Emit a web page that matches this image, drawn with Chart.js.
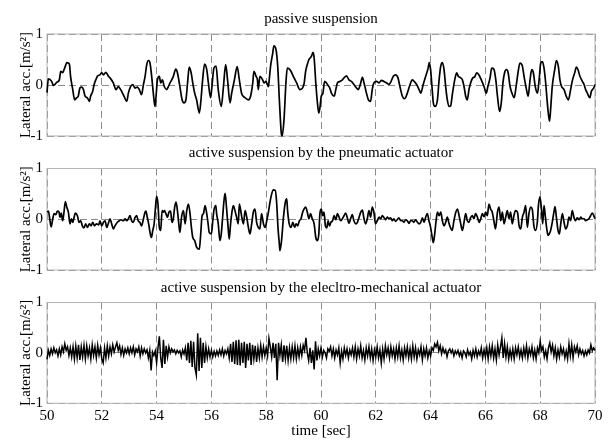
<!DOCTYPE html>
<html>
<head>
<meta charset="utf-8">
<script src="https://cdn.jsdelivr.net/npm/chart.js@4/dist/chart.umd.min.js"></script>
<style>
  html, body { margin: 0; padding: 0; background: #fff; }
  #wrap { position: relative; width: 608px; height: 440px; }
  #wrap canvas { position: absolute; left: 0; top: 0; }
</style>
</head>
<body>
<div id="wrap">
  <canvas id="passive" width="608" height="440"></canvas>
  <canvas id="pneumatic" width="608" height="440"></canvas>
  <canvas id="electro" width="608" height="440"></canvas>
</div>
<script>
// panel titles and axis texts
const titles = [
  "passive suspension",
  "active suspension by the pneumatic actuator",
  "active suspension by the elecltro-mechanical actuator"
];
const yLabel = "Lateral acc.[m/s\u00b2]";
const xLabel = "time [sec]";
const xTicks = [50, 52, 54, 56, 58, 60, 62, 64, 66, 68, 70];
const yTicks = [-1, 0, 1];

// passive suspension
const passiveTime = [
  50.00, 50.05, 50.17, 50.23, 50.29, 50.35, 50.45, 50.50, 50.57, 50.62,
  50.67, 50.72, 50.78, 50.82, 50.86, 50.94, 51.01, 51.08, 51.14, 51.20,
  51.27, 51.33, 51.39, 51.47, 51.55, 51.59, 51.67, 51.72, 51.78, 51.84,
  51.93, 52.00, 52.06, 52.15, 52.24, 52.30, 52.42, 52.52, 52.60, 52.69,
  52.81, 52.91, 52.97, 53.05, 53.13, 53.21, 53.30, 53.37, 53.45, 53.52,
  53.58, 53.64, 53.70, 53.76, 53.82, 53.88, 53.94, 53.98, 54.03, 54.10,
  54.15, 54.21, 54.28, 54.37, 54.43, 54.49, 54.55, 54.61, 54.70, 54.76,
  54.85, 54.93, 55.00, 55.07, 55.13, 55.19, 55.26, 55.32, 55.39, 55.46,
  55.56, 55.62, 55.68, 55.75, 55.83, 55.89, 55.97, 56.02, 56.09, 56.17,
  56.25, 56.36, 56.44, 56.52, 56.59, 56.68, 56.74, 56.84, 56.94, 57.02,
  57.10, 57.23, 57.35, 57.43, 57.51, 57.55, 57.63, 57.68, 57.71, 57.77,
  57.87, 57.92, 57.99, 58.08, 58.11, 58.16, 58.24, 58.28, 58.36, 58.42,
  58.48, 58.55, 58.58, 58.65, 58.72, 58.77, 58.87, 58.99, 59.11, 59.23,
  59.38,
  59.44, 59.50, 59.56, 59.65, 59.71, 59.75, 59.81, 59.87, 59.92, 59.96,
  60.01, 60.07, 60.13, 60.20, 60.26, 60.32, 60.38, 60.48, 60.54, 60.60,
  60.69, 60.78, 60.84, 60.93, 61.02, 61.11, 61.20, 61.30, 61.36, 61.45,
  61.51, 61.57, 61.66, 61.73, 61.81, 61.87, 61.93, 62.03, 62.12, 62.20,
  62.30, 62.40, 62.48, 62.54, 62.64, 62.72, 62.81, 62.88, 62.97, 63.05,
  63.15, 63.25, 63.33, 63.40, 63.49, 63.58, 63.64, 63.73, 63.82, 63.91,
  63.95, 64.00, 64.05, 64.10, 64.16, 64.25, 64.31, 64.37, 64.43, 64.49,
  64.55, 64.61, 64.68, 64.73, 64.80, 64.88, 64.95, 65.01, 65.10, 65.16,
  65.22, 65.28, 65.34, 65.40, 65.46, 65.54, 65.61, 65.68, 65.76, 65.85,
  65.95, 66.03, 66.09, 66.17, 66.23, 66.31, 66.38, 66.44, 66.52, 66.58,
  66.64, 66.70, 66.77, 66.83, 66.90, 66.97, 67.05, 67.12, 67.19, 67.26,
  67.35, 67.41, 67.50, 67.56, 67.63, 67.69, 67.75, 67.82, 67.90, 67.96,
  68.02, 68.08, 68.14, 68.20, 68.26, 68.34, 68.38, 68.44, 68.53, 68.59,
  68.66, 68.72, 68.78, 68.87, 68.95, 69.03, 69.11, 69.18, 69.26, 69.32,
  69.38, 69.45, 69.54, 69.60, 69.66, 69.72, 69.81, 69.87, 69.95, 70.00
];
const passiveAcc = [
  -0.15, 0.12, 0.07, -0.01, 0.01, 0.05, 0.10, 0.27, 0.24, 0.30,
  0.37, 0.44, 0.43, 0.40, 0.17, -0.09, -0.29, -0.25, -0.22, -0.06,
  -0.04, -0.09, -0.22, -0.25, -0.32, -0.22, -0.12, 0.01, 0.10, 0.17,
  0.20, 0.24, 0.20, 0.25, 0.17, 0.14, 0.04, -0.09, -0.03, -0.09,
  -0.22, -0.32, -0.16, -0.03, 0.01, -0.06, -0.04, -0.09, -0.19, 0.01,
  0.17, 0.40, 0.48, 0.43, 0.17, -0.16, -0.42, -0.22, 0.10, 0.17,
  0.04, 0.10, -0.03, -0.09, -0.03, 0.04, 0.10, 0.17, 0.31, 0.24,
  -0.03, -0.29, -0.35, -0.29, 0.04, 0.35, 0.24, 0.04, -0.16, -0.29,
  -0.55, -0.29, 0.10, 0.41, 0.30, 0.04, -0.25, -0.03, 0.33, 0.37,
  -0.09, -0.42, -0.03, 0.40, 0.10, -0.35, -0.16, 0.10, 0.36, 0.10,
  -0.16, -0.25, -0.29, -0.22, 0.04, 0.27, 0.17, 0.10, -0.09, 0.17,
  0.10, 0.04, 0.07, -0.03, 0.10, 0.37, 0.63, 0.77, 0.69, 0.37,
  -0.29, -0.94, -1.00, -0.68, 0.04, 0.33, 0.30, 0.17, 0.04, -0.09,
  0.02,
  0.27, 0.40, 0.50, 0.56, 0.64, 0.53, 0.04, -0.35, -0.55, -0.45,
  -0.22, -0.16, 0.07, 0.04, -0.01, -0.06, -0.16, -0.22, -0.09, 0.04,
  0.07, 0.10, 0.14, 0.18, 0.10, 0.07, 0.01, -0.06, -0.09, 0.04,
  0.15, 0.04, -0.16, -0.29, -0.32, -0.09, 0.04, 0.07, 0.04, 0.09,
  0.07, 0.04, 0.01, 0.05, 0.17, 0.20, 0.14, -0.03, -0.22, -0.27,
  -0.16, 0.01, 0.10, 0.07, 0.01, -0.09, -0.16, 0.01, 0.17, 0.33,
  0.44, 0.30, -0.03, -0.35, -0.42, -0.29, 0.10, 0.37, 0.44, 0.30,
  -0.03, -0.29, -0.42, -0.41, -0.16, 0.10, 0.24, 0.17, 0.14, 0.10,
  -0.03, -0.22, -0.29, -0.09, 0.04, 0.14, 0.16, 0.24, 0.20, 0.10,
  -0.03, -0.16, -0.03, 0.14, 0.33, 0.31, 0.10, -0.22, -0.52, -0.35,
  0.04, 0.24, 0.30, 0.24, -0.03, -0.16, -0.25, -0.03, 0.24, 0.43,
  0.37, 0.17, -0.09, -0.22, 0.10, 0.30, 0.24, -0.03, -0.16, 0.10,
  0.43, 0.46, 0.33, 0.04, -0.35, -0.71, -0.48, -0.03, 0.30, 0.48,
  0.37, 0.10, -0.03, -0.09, -0.22, -0.29, -0.09, 0.10, 0.24, 0.35,
  0.30, 0.17, 0.07, 0.01, -0.09, -0.16, -0.25, -0.12, -0.06, 0.01
];

// pneumatic actuator
const pneumaticTime = [
  50.00, 50.05, 50.11, 50.15, 50.21, 50.26, 50.32, 50.38, 50.44, 50.47,
  50.52, 50.57, 50.62, 50.67, 50.72, 50.78, 50.84, 50.89, 50.94, 50.99,
  51.03, 51.11, 51.17, 51.23, 51.29, 51.35, 51.41, 51.47, 51.55, 51.61,
  51.67, 51.73, 51.81, 51.89, 51.93, 52.00, 52.06, 52.12, 52.18, 52.24,
  52.30, 52.36, 52.42, 52.48, 52.57, 52.64, 52.70, 52.79, 52.85, 52.91,
  52.97, 53.03, 53.09, 53.15, 53.21, 53.27, 53.33, 53.39, 53.45, 53.52,
  53.58, 53.61, 53.66, 53.71, 53.76, 53.81, 53.86, 53.91, 53.95, 54.00,
  54.05, 54.10, 54.15, 54.20, 54.25, 54.29, 54.34, 54.40, 54.45, 54.51,
  54.56, 54.61, 54.66, 54.71, 54.76, 54.81, 54.85, 54.91, 54.98, 55.04,
  55.10, 55.16, 55.22, 55.27, 55.32, 55.39, 55.46, 55.56, 55.61, 55.66,
  55.71, 55.77, 55.83, 55.88, 55.92, 56.00, 56.05, 56.09, 56.16, 56.19,
  56.25, 56.31, 56.36, 56.41, 56.46, 56.50, 56.55, 56.61, 56.65, 56.70,
  56.75, 56.80, 56.86, 56.92, 56.98, 57.02, 57.07, 57.12, 57.17, 57.23,
  57.29, 57.35, 57.41, 57.47, 57.53, 57.59, 57.65, 57.71, 57.77, 57.83,
  57.90, 57.96, 58.02, 58.08, 58.14, 58.20, 58.26, 58.33, 58.38, 58.43,
  58.48, 58.50, 58.56, 58.63, 58.70, 58.75, 58.78, 58.84, 58.91, 58.97,
  59.04, 59.09, 59.15, 59.21, 59.27, 59.33, 59.38,
  59.44, 59.50, 59.56, 59.62, 59.68, 59.75, 59.81, 59.87, 59.92, 59.96,
  60.01, 60.06, 60.11, 60.16, 60.21, 60.26, 60.31, 60.36, 60.42, 60.48,
  60.54, 60.60, 60.66, 60.72, 60.78, 60.84, 60.90, 60.96, 61.02, 61.08,
  61.14, 61.20, 61.27, 61.33, 61.39, 61.45, 61.51, 61.57, 61.63, 61.69,
  61.75, 61.81, 61.87, 61.93, 61.99, 62.05, 62.12, 62.18, 62.24, 62.30,
  62.36, 62.42, 62.48, 62.54, 62.60, 62.66, 62.72, 62.78, 62.84, 62.91,
  62.97, 63.03, 63.09, 63.15, 63.21, 63.27, 63.33, 63.39, 63.45, 63.52,
  63.58, 63.64, 63.70, 63.76, 63.82, 63.88, 63.94, 64.00, 64.06, 64.10,
  64.15, 64.20, 64.25, 64.31, 64.37, 64.43, 64.49, 64.55, 64.61, 64.67,
  64.73, 64.79, 64.85, 64.92, 64.98, 65.04, 65.10, 65.16, 65.22, 65.28,
  65.34, 65.40, 65.46, 65.52, 65.58, 65.64, 65.71, 65.77, 65.83, 65.89,
  65.95, 66.01, 66.07, 66.13, 66.19, 66.25, 66.31, 66.37, 66.44, 66.50,
  66.56, 66.62, 66.68, 66.74, 66.80, 66.86, 66.92, 66.98, 67.04, 67.10,
  67.17, 67.23, 67.29, 67.35, 67.41, 67.47, 67.53, 67.59, 67.65, 67.71,
  67.77, 67.83, 67.90, 67.93, 67.99, 68.04, 68.09, 68.14, 68.19, 68.24,
  68.29, 68.33, 68.38, 68.44, 68.50, 68.54, 68.59, 68.65, 68.70, 68.75,
  68.81, 68.87, 68.93, 68.99, 69.05, 69.11, 69.17, 69.23, 69.29, 69.35,
  69.42, 69.48, 69.54, 69.60, 69.66, 69.72, 69.78, 69.84, 69.90, 70.00
];
const pneumaticAcc = [
  0.14, 0.16, -0.03, -0.15, 0.01, 0.11, 0.09, 0.16, 0.14, 0.04,
  0.12, -0.03, 0.14, 0.35, 0.24, 0.14, -0.09, 0.01, -0.06, 0.04,
  0.12, 0.07, -0.06, -0.03, -0.13, -0.17, -0.09, -0.16, -0.09, -0.13,
  -0.06, -0.13, -0.09, -0.11, -0.03, -0.13, -0.06, -0.03, -0.16, -0.08,
  0.01, -0.09, -0.19, -0.13, -0.06, -0.03, -0.01, -0.03, 0.01, -0.03,
  0.01, 0.07, -0.03, -0.06, 0.03, 0.07, -0.03, -0.06, -0.13, 0.01,
  0.14, 0.16, 0.04, -0.09, -0.26, -0.36, -0.22, -0.09, 0.17, 0.45,
  0.30, -0.16, -0.22, 0.17, 0.14, 0.17, 0.11, 0.04, 0.14, 0.16,
  -0.06, 0.01, 0.24, 0.34, 0.17, -0.09, -0.26, 0.04, 0.17, -0.09,
  0.17, 0.30, 0.11, -0.16, -0.36, -0.42, -0.55, -0.59, -0.29, 0.07,
  0.11, 0.27, 0.11, -0.09, -0.26, -0.29, -0.03, 0.17, 0.27, 0.11,
  -0.09, -0.42, -0.29, 0.04, 0.37, 0.51, 0.24, -0.16, -0.39, -0.09,
  0.14, 0.27, 0.17, 0.04, -0.09, 0.30, 0.17, 0.01, -0.09, 0.17,
  0.04, -0.16, -0.29, -0.09, 0.14, 0.20, -0.06, -0.16, -0.19, 0.11,
  -0.09, -0.16, -0.03, 0.14, 0.34, 0.50, 0.58, 0.57, 0.34, -0.16,
  -0.49, -0.62, -0.42, 0.04, 0.34, 0.40, 0.17, -0.09, -0.16, -0.06,
  -0.16, -0.09, -0.13, -0.03, 0.01, 0.14, 0.20,
  0.24, 0.14, 0.01, 0.11, 0.01, -0.09, -0.36, -0.42, -0.29, 0.11,
  0.20, 0.07, 0.14, -0.13, -0.17, -0.03, -0.13, -0.06, -0.03, 0.07,
  -0.01, 0.11, 0.04, -0.03, 0.01, 0.07, 0.12, 0.03, -0.08, 0.01,
  0.09, -0.03, -0.09, -0.06, 0.04, 0.14, 0.18, 0.01, -0.09, 0.01,
  0.17, 0.04, 0.24, 0.14, -0.09, -0.03, 0.04, 0.01, 0.07, 0.03,
  -0.01, 0.04, 0.01, 0.03, -0.03, 0.01, -0.04, -0.01, 0.03, -0.03,
  -0.03, -0.06, -0.01, -0.03, -0.08, -0.03, -0.03, -0.06, -0.01, -0.06,
  -0.09, -0.06, 0.03, -0.06, 0.04, 0.11, -0.03, -0.16, -0.36, -0.46,
  -0.29, -0.03, 0.14, 0.07, 0.14, -0.03, -0.13, -0.06, 0.04, -0.08,
  -0.17, -0.22, -0.03, 0.14, 0.20, 0.07, -0.09, -0.22, -0.06, 0.11,
  -0.03, -0.06, 0.03, 0.07, 0.01, 0.11, 0.04, -0.06, 0.01, 0.11,
  0.05, 0.14, 0.07, 0.30, 0.20, 0.14, -0.03, -0.19, 0.14, 0.24,
  -0.03, 0.14, -0.09, 0.04, 0.17, 0.01, 0.14, -0.09, 0.07, 0.17,
  0.14, -0.13, -0.19, 0.04, 0.14, 0.27, -0.16, 0.11, 0.24, 0.20,
  -0.13, -0.22, -0.03, 0.24, 0.44, 0.24, -0.09, 0.27, 0.04, -0.19,
  -0.32, -0.29, -0.22, -0.06, 0.14, 0.25, 0.04, -0.22, -0.29, -0.09,
  0.11, -0.06, -0.19, -0.13, 0.04, -0.03, 0.17, 0.04, -0.03, 0.03,
  -0.01, 0.04, 0.01, 0.01, -0.03, -0.01, 0.01, 0.07, 0.12, 0.01
];

// electro-mechanical actuator, one value every 0.05 s from 50 s
const electroStart = 50;
const electroStep = 0.05;
const electroAcc = [
  -0.13, 0.05, -0.05, 0.08, -0.02, 0.10, 0.00, 0.06, -0.06, 0.08, -0.04, 0.12, 0.02, 0.18, 0.05, 0.12, -0.05, 0.10, -0.08, 0.12,
  -0.12, 0.14, -0.10, 0.16, -0.14, 0.12, -0.08, 0.15, -0.12, 0.14, -0.06, 0.10, -0.12, 0.16, -0.05, 0.12, -0.10, 0.15, -0.04, 0.10,
  -0.12, -0.20, 0.10, -0.10, 0.14, -0.06, 0.12, -0.02, 0.16, 0.02, 0.12, 0.20, 0.05, 0.14, -0.03, 0.10, -0.05, 0.08, 0.00, 0.10,
  -0.02, 0.10, 0.00, 0.12, -0.04, 0.08, 0.02, 0.12, -0.06, 0.10, -0.02, 0.08, 0.00, 0.06, -0.10, 0.05, -0.35, 0.02, -0.05, 0.04,
  -0.20, 0.10, 0.33, -0.10, -0.30, 0.26, -0.22, 0.14, -0.08, 0.12, 0.00, 0.08, 0.02, 0.06, -0.02, 0.05, 0.00, 0.04, -0.08, 0.06,
  -0.02, 0.10, -0.15, 0.20, -0.20, 0.24, -0.28, 0.22, -0.30, -0.44, 0.39, -0.36, 0.30, -0.30, 0.20, -0.20, 0.12, -0.10, 0.08, -0.08,
  0.05, -0.08, 0.03, -0.06, 0.04, -0.05, 0.06, -0.04, 0.08, -0.06, 0.05, -0.02, 0.08, -0.10, 0.18, -0.18, 0.22, -0.22, 0.25, -0.24,
  0.26, -0.25, 0.20, -0.20, 0.22, -0.30, 0.18, -0.15, 0.20, -0.24, 0.16, -0.12, 0.14, -0.18, 0.10, -0.10, 0.15, -0.08, 0.12, -0.05,
  0.10, -0.06, 0.29, 0.12, -0.08, 0.20, -0.10, 0.18, -0.54, 0.20, -0.05, 0.16, -0.18, 0.15, -0.12, 0.14, -0.15, 0.10, -0.12, 0.12,
  -0.10, 0.14, -0.12, 0.10, -0.08, 0.12, -0.05, 0.15, 0.05, 0.30, 0.00, -0.15, 0.10, -0.20, 0.05, -0.33, 0.23, -0.15, 0.08, -0.06,
  0.10, -0.08, 0.05, 0.00, -0.10, 0.08, 0.03, 0.12, -0.06, 0.08, -0.10, 0.06, -0.04, 0.10, -0.20, 0.04, -0.12, 0.10, -0.05, 0.08,
  -0.10, 0.06, -0.04, 0.10, -0.08, 0.12, -0.12, 0.08, -0.06, 0.14, -0.10, 0.05, -0.14, 0.10, -0.06, 0.12, -0.10, 0.08, -0.15, 0.06,
  -0.08, 0.12, -0.10, 0.06, -0.20, 0.08, -0.12, 0.14, -0.04, 0.10, -0.10, 0.12, -0.06, 0.08, -0.12, 0.10, -0.08, 0.14, -0.10, 0.06,
  -0.14, 0.10, -0.06, 0.12, -0.10, 0.08, -0.12, 0.14, -0.08, 0.10, -0.12, 0.06, -0.04, 0.12, -0.14, 0.08, -0.06, 0.10, -0.10, 0.04,
  -0.06, 0.10, 0.05, 0.18, 0.12, 0.21, 0.04, 0.14, -0.02, 0.10, 0.00, 0.06, -0.08, 0.04, 0.08, 0.00, 0.06, -0.06, 0.04, -0.02,
  0.05, -0.06, 0.02, -0.10, 0.04, 0.00, -0.08, 0.06, -0.04, 0.02, -0.12, 0.05, -0.06, 0.08, -0.08, 0.04, -0.04, 0.10, -0.10, 0.06,
  -0.08, 0.10, -0.12, 0.12, -0.06, 0.14, -0.10, 0.08, -0.14, 0.16, -0.04, 0.12, 0.30, -0.10, 0.18, -0.08, 0.12, -0.12, 0.06, -0.10,
  0.08, -0.12, 0.10, -0.04, 0.12, -0.08, 0.06, -0.10, 0.10, -0.06, 0.14, -0.10, 0.08, -0.04, 0.12, -0.10, 0.06, -0.12, 0.10, 0.00,
  0.23, 0.05, 0.12, -0.08, 0.04, -0.12, 0.10, 0.20, 0.02, 0.15, -0.06, 0.10, -0.12, 0.06, -0.08, 0.12, -0.02, 0.08, -0.10, 0.04,
  -0.12, 0.18, -0.06, 0.16, -0.10, 0.12, 0.02, 0.14, -0.04, 0.08, -0.02, 0.05, -0.06, 0.04, -0.04, 0.06, 0.00, 0.16, 0.04, 0.10,
  0.05
];
const electroTime = electroAcc.map((_, i) => electroStart + i * electroStep);

Chart.defaults.font.family = '"Liberation Serif", "Times New Roman", serif';
Chart.defaults.font.size = 15;
Chart.defaults.color = "#000";

// matlab style box round the axes
const frame = {
  id: "frame",
  beforeDatasetsDraw(chart) {
    const { ctx, chartArea: a } = chart;
    ctx.save();
    ctx.strokeStyle = "#b4b4b4";
    ctx.lineWidth = 1;
    ctx.strokeRect(a.left, a.top, a.right - a.left, a.bottom - a.top);
    ctx.restore();
  },
};

function makePanel(id, title, times, values, box) {
  const last = !!box.last;
  const gridStyle = { color: "#8c8c8c", lineWidth: 1, drawTicks: false };
  return new Chart(document.getElementById(id), {
    type: "line",
    data: {
      datasets: [{
        data: times.map((t, i) => ({ x: t, y: values[i] })),
        borderColor: "#000",
        borderWidth: box.lineWidth,
        pointRadius: 0,
        cubicInterpolationMode: box.smooth ? "monotone" : "default",
        tension: 0,
        clip: false,
      }],
    },
    options: {
      responsive: false,
      animation: false,
      devicePixelRatio: 1,
      events: [],
      layout: {
        padding: { left: 0, right: 13, top: box.titleMid - 9, bottom: last ? 0 : 440 - box.bottom },
      },
      plugins: {
        legend: { display: false },
        tooltip: { enabled: false },
        title: {
          display: true,
          text: title,
          fullSize: false,
          color: "#000",
          font: { size: 15, weight: "normal" },
          padding: { top: 0, bottom: box.top - box.titleMid - 9 },
        },
      },
      scales: {
        x: {
          type: "linear",
          min: xTicks[0],
          max: xTicks[xTicks.length - 1],
          grid: gridStyle,
          border: { display: false, dash: [7, 4] },
          afterBuildTicks: (s) => { s.ticks = xTicks.map((v) => ({ value: v })); },
          ticks: { display: last, padding: 4, maxRotation: 0, autoSkip: false },
          title: { display: last, text: xLabel, padding: { top: 0, bottom: 0 } },
          afterFit(s) { s.height = last ? 440 - box.bottom : 0; },
        },
        y: {
          min: yTicks[0],
          max: yTicks[yTicks.length - 1],
          grid: gridStyle,
          border: { display: false, dash: [7, 4] },
          afterBuildTicks: (s) => { s.ticks = yTicks.map((v) => ({ value: v })); },
          ticks: { padding: 4 },
          title: { display: true, text: yLabel, padding: { top: 17, bottom: 0 } },
          afterFit(s) { s.width = 47; },
        },
      },
    },
    plugins: [frame],
  });
}

makePanel("passive", titles[0], passiveTime, passiveAcc,
  { titleMid: 19, top: 34, bottom: 136, smooth: true, lineWidth: 1.7 });
makePanel("pneumatic", titles[1], pneumaticTime, pneumaticAcc,
  { titleMid: 153, top: 168.5, bottom: 270, smooth: true, lineWidth: 1.7 });
makePanel("electro", titles[2], electroTime, electroAcc,
  { titleMid: 288, top: 302.5, bottom: 403.3, last: true, smooth: false, lineWidth: 1.5 });
</script>
</body>
</html>
